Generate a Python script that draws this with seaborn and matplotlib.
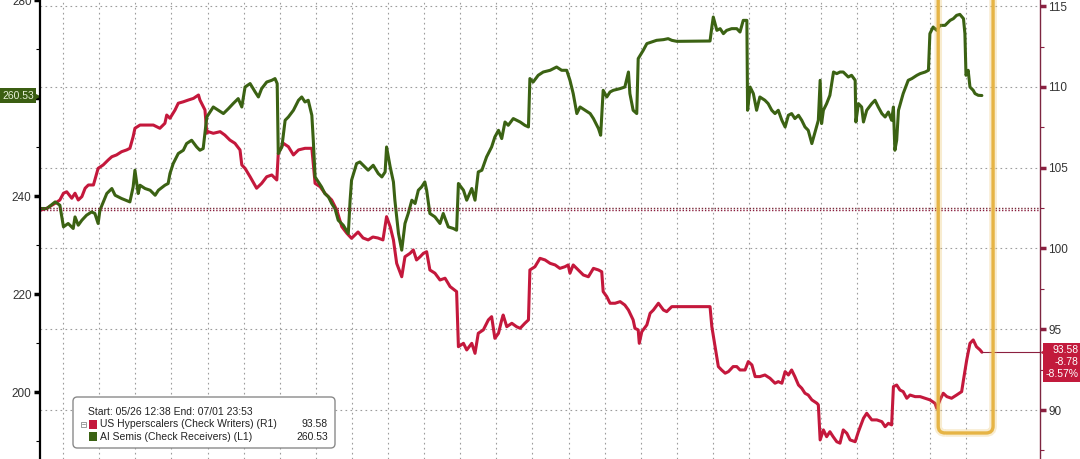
import numpy as np
import matplotlib
matplotlib.use("Agg")
import matplotlib.pyplot as plt
import matplotlib.transforms as mtransforms
from matplotlib.patches import FancyBboxPatch, Rectangle
import seaborn as sns

# x = trading sessions elapsed since start (05/26 12:38)
hyper_t = [0.00, 0.19, 0.42, 0.55, 0.65, 0.74, 0.88, 0.97, 1.06, 1.16,
           1.25, 1.34, 1.48, 1.57, 1.61, 1.75, 1.89, 1.99, 2.12, 2.26,
           2.40, 2.49, 2.58, 2.63, 2.77, 2.96, 3.14, 3.32, 3.46, 3.51,
           3.60, 3.74, 3.83, 3.97, 4.11, 4.25, 4.39, 4.43, 4.57, 4.62,
           4.66, 4.80, 4.99, 5.12, 5.26, 5.40, 5.54, 5.59, 5.68, 5.82,
           6.00, 6.14, 6.28, 6.42, 6.56, 6.60, 6.74, 6.88, 7.02, 7.16,
           7.34, 7.53, 7.62, 7.76, 7.89, 8.08, 8.22, 8.36, 8.50, 8.63,
           8.81, 8.95, 9.09, 9.22, 9.36, 9.50, 9.60, 9.70, 9.79, 9.88,
           10.02, 10.11, 10.25, 10.34, 10.43, 10.53, 10.62, 10.71, 10.80, 10.94,
           11.08, 11.22, 11.36, 11.54, 11.59, 11.73, 11.82, 11.96, 12.05, 12.14,
           12.28, 12.42, 12.51, 12.60, 12.70, 12.79, 12.83, 12.93, 13.07, 13.20,
           13.30, 13.43, 13.53, 13.57, 13.71, 13.85, 13.99, 14.13, 14.27, 14.40,
           14.54, 14.63, 14.68, 14.77, 14.91, 15.05, 15.19, 15.33, 15.47, 15.56,
           15.60, 15.70, 15.79, 15.93, 16.07, 16.20, 16.30, 16.43, 16.48, 16.57,
           16.60, 16.67, 16.81, 16.90, 16.99, 17.13, 17.27, 17.36, 17.50, 17.64,
           18.56, 18.61, 18.70, 18.79, 18.88, 18.98, 19.07, 19.20, 19.30, 19.39,
           19.53, 19.62, 19.72, 19.81, 19.94, 20.08, 20.22, 20.36, 20.45, 20.55,
           20.64, 20.73, 20.82, 20.91, 21.01, 21.10, 21.19, 21.28, 21.38, 21.52,
           21.56, 21.61, 21.70, 21.79, 21.88, 21.97, 22.07, 22.16, 22.25, 22.35,
           22.44, 22.58, 22.67, 22.81, 22.90, 23.04, 23.18, 23.32, 23.41, 23.50,
           23.59, 23.64, 23.73, 23.82, 23.91, 24.01, 24.10, 24.24, 24.38, 24.52,
           24.65, 24.79, 24.84, 24.93, 25.02, 25.12, 25.25, 25.39, 25.53, 25.58,
           25.67, 25.76, 25.85, 25.94, 26.04, 26.09]
hyper_val = [102.36, 102.49, 102.80, 103.00, 103.42, 103.51, 103.11, 103.42, 103.00, 103.21,
             103.73, 103.93, 103.93, 104.65, 104.96, 105.17, 105.48, 105.68, 105.79, 105.99,
             106.10, 106.20, 106.92, 107.44, 107.64, 107.64, 107.64, 107.44, 107.75, 108.26,
             108.06, 108.57, 108.99, 109.08, 109.19, 109.29, 109.50, 109.19, 108.57, 107.13,
             107.23, 107.13, 107.23, 107.02, 106.71, 106.51, 106.10, 105.17, 104.96, 104.44,
             103.73, 104.03, 104.44, 104.55, 104.24, 105.89, 106.51, 106.30, 105.79, 106.10,
             106.20, 106.20, 104.03, 103.82, 103.42, 103.00, 102.38, 101.35, 100.94, 100.63,
             101.02, 100.65, 100.53, 100.71, 100.65, 100.53, 101.97, 101.35, 100.53, 99.08,
             98.25, 99.49, 99.70, 99.91, 99.29, 99.49, 99.70, 99.80, 98.67, 98.47,
             98.05, 98.16, 97.64, 97.33, 93.92, 94.13, 93.72, 94.13, 93.51, 94.75,
             94.96, 95.58, 95.78, 94.44, 94.75, 95.58, 95.88, 95.16, 95.37, 95.16,
             95.06, 95.37, 95.58, 98.67, 98.87, 99.39, 99.29, 99.08, 98.98, 98.77,
             98.87, 98.98, 98.47, 98.98, 98.67, 98.36, 98.25, 98.77, 98.67, 98.56,
             97.33, 97.02, 96.61, 96.61, 96.71, 96.50, 96.19, 95.58, 95.06, 94.96,
             94.13, 94.85, 95.27, 95.99, 96.19, 96.61, 96.19, 96.09, 96.40, 96.40,
             96.40, 95.16, 93.92, 92.69, 92.48, 92.28, 92.38, 92.69, 92.69, 92.48,
             92.48, 93.00, 92.79, 92.07, 92.07, 92.17, 91.97, 91.66, 91.76, 91.66,
             92.38, 92.17, 92.48, 92.07, 91.55, 91.35, 91.04, 90.93, 90.63, 90.42,
             90.32, 88.15, 88.77, 88.35, 88.66, 88.35, 88.04, 87.95, 88.77, 88.56,
             88.15, 88.04, 88.66, 89.49, 89.80, 89.39, 89.39, 89.28, 88.97, 89.18,
             89.08, 91.45, 91.55, 91.24, 91.14, 90.73, 90.93, 90.83, 90.83, 90.73,
             90.63, 90.42, 90.11, 90.63, 91.04, 90.83, 90.73, 90.93, 91.14, 91.86,
             93.10, 94.13, 94.34, 93.92, 93.72, 93.58]

semis_t = [0.00, 0.19, 0.42, 0.55, 0.65, 0.78, 0.92, 0.97, 1.06, 1.16,
           1.29, 1.43, 1.52, 1.61, 1.66, 1.85, 1.99, 2.08, 2.26, 2.49,
           2.58, 2.63, 2.72, 2.77, 2.91, 3.05, 3.19, 3.28, 3.46, 3.55,
           3.60, 3.69, 3.83, 3.97, 4.06, 4.20, 4.34, 4.43, 4.52, 4.62,
           4.80, 4.94, 5.08, 5.22, 5.35, 5.49, 5.59, 5.68, 5.82, 5.96,
           6.05, 6.14, 6.28, 6.42, 6.51, 6.57, 6.60, 6.70, 6.79, 6.88,
           7.02, 7.16, 7.25, 7.34, 7.43, 7.53, 7.57, 7.62, 7.71, 7.80,
           7.89, 7.99, 8.08, 8.17, 8.26, 8.40, 8.54, 8.59, 8.63, 8.77,
           8.86, 9.00, 9.09, 9.23, 9.37, 9.47, 9.56, 9.60, 9.70, 9.79,
           9.83, 9.93, 10.02, 10.11, 10.20, 10.30, 10.39, 10.48, 10.57, 10.66,
           10.71, 10.80, 10.94, 11.08, 11.17, 11.31, 11.45, 11.54, 11.59, 11.73,
           11.82, 11.96, 12.05, 12.14, 12.24, 12.37, 12.51, 12.60, 12.70, 12.79,
           12.88, 12.97, 13.11, 13.30, 13.43, 13.53, 13.57, 13.66, 13.80, 13.94,
           14.13, 14.31, 14.45, 14.59, 14.68, 14.77, 14.87, 14.96, 15.10, 15.24,
           15.33, 15.47, 15.53, 15.60, 15.70, 15.79, 15.88, 16.07, 16.20, 16.30,
           16.34, 16.43, 16.53, 16.57, 16.71, 16.81, 16.94, 17.08, 17.27, 17.40,
           17.50, 17.64, 18.56, 18.61, 18.65, 18.75, 18.84, 18.93, 19.02, 19.16,
           19.30, 19.39, 19.48, 19.58, 19.60, 19.67, 19.76, 19.85, 19.94, 20.08,
           20.17, 20.27, 20.36, 20.45, 20.55, 20.64, 20.73, 20.82, 20.91, 21.01,
           21.10, 21.19, 21.28, 21.38, 21.47, 21.56, 21.61, 21.65, 21.70, 21.79,
           21.88, 21.98, 22.07, 22.16, 22.25, 22.39, 22.48, 22.58, 22.60, 22.67,
           22.76, 22.81, 22.90, 23.04, 23.13, 23.22, 23.32, 23.41, 23.50, 23.59,
           23.64, 23.68, 23.73, 23.78, 23.91, 24.05, 24.15, 24.29, 24.38, 24.52,
           24.61, 24.65, 24.74, 24.84, 24.93, 25.07, 25.21, 25.30, 25.39, 25.48,
           25.58, 25.62, 25.65, 25.71, 25.76, 25.85, 25.90, 25.99, 26.09]
semis_val = [237.5, 237.49, 238.84, 238.17, 233.75, 234.44, 233.42, 235.78, 234.09, 235.11,
             236.13, 236.80, 236.48, 234.44, 237.15, 240.55, 241.57, 240.20, 239.53, 238.84,
             241.89, 245.30, 240.55, 242.24, 241.57, 241.22, 240.20, 241.22, 242.24, 242.59,
             244.62, 246.66, 248.70, 249.37, 250.73, 251.41, 250.04, 249.37, 249.72, 256.15,
             258.19, 257.52, 256.85, 257.86, 258.88, 259.90, 258.19, 262.26, 262.96, 261.25,
             260.23, 261.94, 263.28, 263.63, 263.98, 262.96, 248.70, 250.04, 255.48, 256.15,
             257.52, 259.56, 260.23, 259.21, 259.56, 256.50, 251.41, 243.93, 242.91, 241.89,
             240.55, 239.86, 238.51, 237.49, 235.11, 234.09, 232.40, 239.19, 243.26, 246.66,
             246.99, 245.97, 245.30, 246.31, 244.62, 243.93, 244.95, 250.04, 245.97, 242.91,
             239.19, 232.40, 229.00, 234.44, 236.48, 239.19, 238.51, 241.22, 241.89, 242.91,
             241.22, 236.48, 235.78, 234.44, 236.48, 233.75, 233.42, 233.07, 242.59, 241.22,
             239.19, 241.57, 239.19, 244.95, 245.30, 248.01, 250.04, 252.08, 253.44, 251.75,
             255.13, 254.46, 255.83, 255.13, 254.46, 254.12, 263.98, 263.28, 264.65, 265.32,
             265.67, 266.34, 265.67, 265.67, 263.63, 260.92, 256.85, 258.19, 257.52, 256.85,
             255.83, 253.79, 252.43, 261.59, 260.23, 261.25, 261.59, 261.94, 262.26, 265.32,
             260.92, 257.52, 256.85, 268.05, 269.74, 271.11, 271.43, 271.78, 271.92, 272.12,
             271.78, 271.57, 271.64, 274.49, 276.53, 273.81, 274.16, 273.14, 273.81, 274.16,
             274.16, 273.47, 275.85, 275.85, 257.52, 262.26, 260.92, 257.52, 260.23, 259.56,
             258.88, 257.52, 256.85, 257.52, 255.48, 254.12, 256.50, 256.85, 255.83, 256.50,
             255.48, 254.12, 253.44, 250.73, 253.10, 255.48, 263.63, 254.81, 257.52, 258.88,
             260.57, 265.32, 264.99, 265.32, 265.32, 264.30, 264.65, 263.63, 255.13, 258.88,
             258.19, 255.13, 257.52, 258.88, 259.56, 258.19, 256.85, 256.15, 257.17, 255.48,
             258.19, 249.37, 251.41, 257.52, 260.92, 263.63, 263.98, 264.65, 264.99, 265.32,
             265.67, 273.14, 274.49, 273.81, 274.83, 274.83, 275.85, 276.20, 276.87, 277.07,
             276.20, 273.14, 264.65, 265.67, 262.26, 261.59, 260.92, 260.57, 260.53]

hyper_name = "US Hyperscalers (Check Writers) (R1)"
semis_name = "AI Semis (Check Receivers) (L1)"
header = "Start: 05/26 12:38 End: 07/01 23:53"
hyper_start = 102.36
semis_start = 237.5
hyper_last, hyper_chg, hyper_pct = 93.58, -8.78, -8.57
semis_last = 260.53

day_lines = np.arange(0.64, 26.0, 1.0)
right_ticks = [90, 95, 100, 105, 110, 115]
left_ticks = [200, 220, 240, 260, 280]
left_labels = ["200", "220", "240", "", "280"]   # 260 sits under the last-value tag
highlight = (24.88, 26.40)     # boxed last sessions
highlight_floor = 88.58

RED = "#c4183c"
GREEN = "#3b6213"
MAROON = "#8b2040"
GOLD = "#e6b445"

sns.set_style("white")
plt.rcParams["font.family"] = ["Liberation Sans", "DejaVu Sans"]

fig = plt.figure(figsize=(10.8, 4.59), dpi=100)
ax = fig.add_axes([40 / 1080, 0, 1000 / 1080, 1])
ax2 = ax.twinx()

xlim = (0, 27.7)
rlim = (86.97, 115.38)
llim = (186.43, 280.0)

# red series on right scale (main axes, so gridlines sit below both lines)
sns.lineplot(x=hyper_t, y=hyper_val, ax=ax, color=RED, linewidth=2.2,
             sort=False, estimator=None)
ax.axhline(hyper_start, color=MAROON, lw=1.0, ls=(0, (1, 1.3)))
ax.plot([hyper_t[-1], xlim[1]], [hyper_last, hyper_last], color=MAROON,
        lw=0.8, clip_on=False)

sns.lineplot(x=semis_t, y=semis_val, ax=ax2, color=GREEN, linewidth=2.2,
             sort=False, estimator=None)
ax2.axhline(semis_start, color="#7a2a3a", lw=1.0, ls=(0, (1, 1.3)))

ax.set_xlim(*xlim)
ax.set_ylim(*rlim)
ax2.set_ylim(*llim)
ax.set_xlabel("")
ax.set_ylabel("")
ax2.set_ylabel("")

ax.set_xticks(day_lines)
ax.tick_params(axis="x", length=0, labelbottom=False)
ax.yaxis.tick_right()
ax.set_yticks(right_ticks)
ax.set_yticks(np.arange(87.5, 115.4, 5), minor=True)
ax.tick_params(axis="y", which="major", direction="out", length=4, width=2.5,
               color=MAROON, labelsize=8.5, labelcolor="#333333", pad=2,
               right=True, left=False, labelright=True, labelleft=False)
ax.tick_params(axis="y", which="minor", length=3, width=0.8, color=MAROON,
               right=True, left=False)
ax.grid(True, which="major", color="#9c9c9c", linestyle=(0, (1.5, 3)), linewidth=0.8)
ax.set_axisbelow(True)

ax2.yaxis.tick_left()
ax2.set_yticks(left_ticks)
ax2.set_yticklabels(left_labels)
ax2.set_yticks(np.arange(190, 280, 20), minor=True)
ax2.tick_params(axis="y", which="major", direction="out", length=4, width=2.5,
                color="black", labelsize=8.5, labelcolor="#333333", pad=2,
                left=True, right=False, labelleft=True, labelright=False)
ax2.tick_params(axis="y", which="minor", length=3, width=0.8, color="black",
                left=True, right=False)
ax2.grid(False)

for a in (ax, ax2):
    for s in a.spines.values():
        s.set_visible(False)
ax2.spines["left"].set_visible(True)
ax2.spines["left"].set_color("black")
ax2.spines["left"].set_linewidth(1.6)
ax2.spines["right"].set_visible(True)
ax2.spines["right"].set_color("#7d2540")
ax2.spines["right"].set_linewidth(1.0)

# last value tags
rtrans = mtransforms.blended_transform_factory(ax.transAxes, ax.transData)
ax.annotate(f"{hyper_last:.2f}\n{hyper_chg:.2f}\n{hyper_pct:.2f}%",
            xy=(1.0, hyper_last), xycoords=rtrans, textcoords="offset points",
            xytext=(27.6, 5.0), ha="right", va="top", color="white",
            fontsize=7.5, linespacing=1.25, annotation_clip=False,
            bbox=dict(boxstyle="square,pad=0.25", fc="#c21a3c", ec="none"))
ax.plot([1.004], [hyper_last], marker="<", ms=5, color="#c21a3c",
        transform=rtrans, clip_on=False)

ltrans = mtransforms.blended_transform_factory(ax2.transAxes, ax2.transData)
ax2.annotate(f"{semis_last:.2f}", xy=(0.0, semis_last), xycoords=ltrans,
             textcoords="offset points", xytext=(-4.5, 0), ha="right", va="center",
             color="#e6efd6", fontsize=7.5, annotation_clip=False,
             bbox=dict(boxstyle="square,pad=0.2", fc="#3b5e12", ec="none"))
ax2.plot([-0.004], [semis_last], marker=">", ms=5, color="#3b5e12",
         transform=ltrans, clip_on=False)

# gold highlight box over the final sessions
x0 = (highlight[0] - xlim[0]) / (xlim[1] - xlim[0])
x1 = (highlight[1] - xlim[0]) / (xlim[1] - xlim[0])
y0 = (highlight_floor - rlim[0]) / (rlim[1] - rlim[0])
for lw, alpha in ((5.5, 0.25), (2.4, 1.0)):
    box = FancyBboxPatch((x0, y0), x1 - x0, 1.05 - y0,
                         boxstyle="round,pad=0,rounding_size=0.007",
                         mutation_aspect=1000 / 459, transform=ax.transAxes,
                         fill=False, ec=GOLD, lw=lw, alpha=alpha,
                         clip_on=False, zorder=6)
    ax2.add_artist(box)

# legend panel
def fx(px):
    return px / 1080


def fy(py):
    return 1 - py / 459


leg = FancyBboxPatch((fx(73), fy(448)), fx(335) - fx(73), fy(397) - fy(448),
                     boxstyle="round,pad=0,rounding_size=0.004",
                     mutation_aspect=1080 / 459, transform=fig.transFigure,
                     fc="white", ec="#8a8a8a", lw=1.0, zorder=10)
fig.add_artist(leg)
txt = dict(fontsize=7.5, color="#222222", va="center", zorder=11)
fig.text(fx(87.5), fy(411.7), header, **txt)
fig.text(fx(100.5), fy(424.2), hyper_name, **txt)
fig.text(fx(100.5), fy(436.8), semis_name, **txt)
fig.text(fx(328), fy(424.2), f"{hyper_last:.2f}", ha="right", **txt)
fig.text(fx(328), fy(436.8), f"{semis_last:.2f}", ha="right", **txt)
fig.add_artist(Rectangle((fx(89), fy(428.5)), fx(8), 9 / 459, fc=RED, ec="none",
                         transform=fig.transFigure, zorder=11))
fig.add_artist(Rectangle((fx(89), fy(441.2)), fx(8), 9 / 459, fc=GREEN, ec="none",
                         transform=fig.transFigure, zorder=11))
fig.add_artist(Rectangle((fx(81), fy(426.5)), fx(5), 5 / 459, fill=False,
                         ec="#8a8a8a", lw=0.6, transform=fig.transFigure, zorder=11))
fig.add_artist(plt.Line2D([fx(82), fx(85)], [fy(424), fy(424)], color="#8a8a8a",
                          lw=0.6, transform=fig.transFigure, zorder=11))

fig.savefig("out.png", dpi=100)
